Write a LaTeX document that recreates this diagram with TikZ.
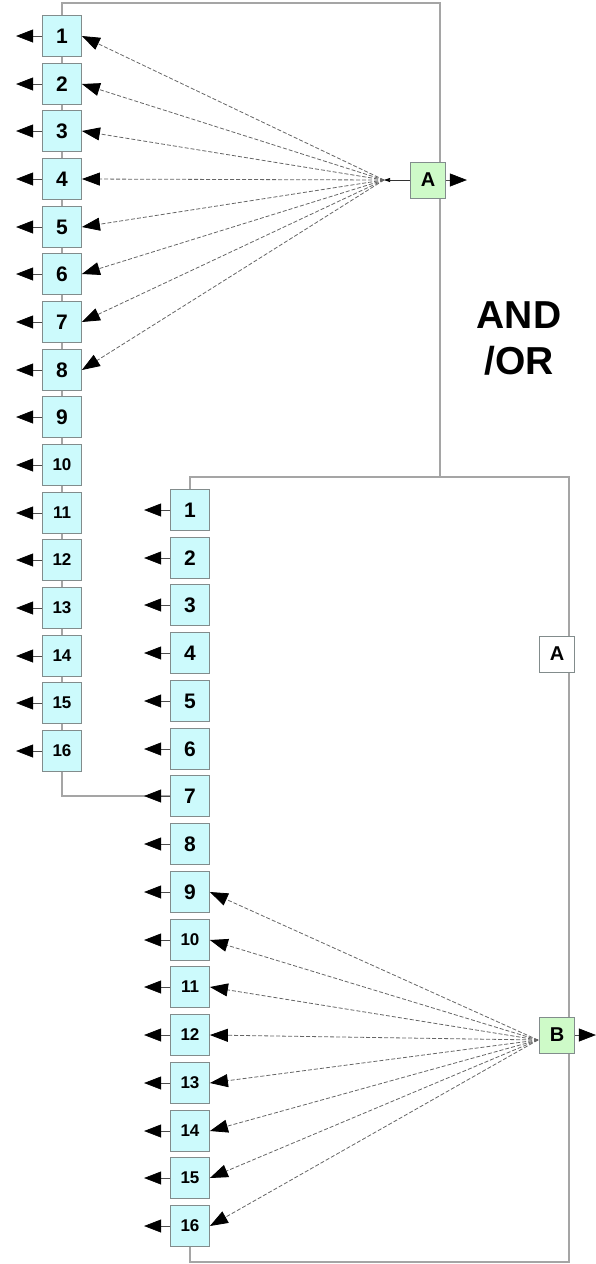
\documentclass[tikz,border=0pt]{standalone}
\usepackage{fontspec}
\setmainfont{Liberation Sans}
\usetikzlibrary{arrows.meta,backgrounds}

\definecolor{boxcyan}{RGB}{204,250,252}
\definecolor{boxgreen}{RGB}{206,250,200}
\definecolor{framegray}{RGB}{165,165,165}
\definecolor{edgegray}{RGB}{130,140,140}

\tikzset{
	numbox/.style={draw=edgegray, fill=boxcyan, line width=0.8pt, minimum width=39pt, minimum height=41pt, inner sep=0pt, font=\fontsize{21}{24}\selectfont\bfseries},
	numboxsm/.style={numbox, font=\fontsize{17}{19}\selectfont\bfseries},
	selbox/.style={draw=edgegray, fill=boxgreen, line width=0.8pt, minimum width=35pt, minimum height=36pt, inner sep=0pt, font=\fontsize{20}{22}\selectfont\bfseries},
	plainbox/.style={selbox, fill=white},
	frameline/.style={draw=framegray, line width=1.2pt},
	outpin/.style={draw=black!70, line width=0.6pt, -{Triangle[length=17pt, width=13pt, color=black]}},
	joinline/.style={draw=black!80, line width=0.6pt, -{Triangle[length=6pt, width=4pt, color=black]}},
	fanline/.style={draw=black!60, line width=0.8pt, dash pattern=on 4pt off 2pt, -{Triangle[length=18pt, width=13pt, color=black]}}
}

\begin{document}
\begin{tikzpicture}[x=1pt, y=-1pt]
	\useasboundingbox (0, 0) rectangle (596, 1264);

	\node[numbox] (l1) at (62, 36) {1};
	\node[numbox] (l2) at (62, 84) {2};
	\node[numbox] (l3) at (62, 131) {3};
	\node[numbox] (l4) at (62, 179) {4};
	\node[numbox] (l5) at (62, 227) {5};
	\node[numbox] (l6) at (62, 274) {6};
	\node[numbox] (l7) at (62, 322) {7};
	\node[numbox] (l8) at (62, 370) {8};
	\node[numbox] (l9) at (62, 417) {9};
	\node[numboxsm] (l10) at (62, 465) {10};
	\node[numboxsm] (l11) at (62, 513) {11};
	\node[numboxsm] (l12) at (62, 560) {12};
	\node[numboxsm] (l13) at (62, 608) {13};
	\node[numboxsm] (l14) at (62, 656) {14};
	\node[numboxsm] (l15) at (62, 703) {15};
	\node[numboxsm] (l16) at (62, 751) {16};

	\node[numbox] (m1) at (190, 510) {1};
	\node[numbox] (m2) at (190, 558) {2};
	\node[numbox] (m3) at (190, 605) {3};
	\node[numbox] (m4) at (190, 653) {4};
	\node[numbox] (m5) at (190, 701) {5};
	\node[numbox] (m6) at (190, 749) {6};
	\node[numbox] (m7) at (190, 796) {7};
	\node[numbox] (m8) at (190, 844) {8};
	\node[numbox] (m9) at (190, 892) {9};
	\node[numboxsm] (m10) at (190, 940) {10};
	\node[numboxsm] (m11) at (190, 987) {11};
	\node[numboxsm] (m12) at (190, 1035) {12};
	\node[numboxsm] (m13) at (190, 1083) {13};
	\node[numboxsm] (m14) at (190, 1131) {14};
	\node[numboxsm] (m15) at (190, 1178) {15};
	\node[numboxsm] (m16) at (190, 1226) {16};

	\node[selbox] (ga) at (428, 180) {A};
	\node[plainbox] (wa) at (557, 654) {A};
	\node[selbox] (gb) at (557, 1035) {B};
	\node[font=\fontsize{39}{46}\selectfont\bfseries, align=center] (andor) at (519, 338) {AND\\/OR};

	\coordinate (ftr) at (440, 3);
	\coordinate (fmid) at (440, 477);
	\coordinate (gtr) at (569, 477);
	\coordinate (gbr) at (569, 1262);
	\coordinate (fana) at (384, 180);
	\coordinate (fanb) at (538, 1040);

	\begin{scope}[on background layer]
		\draw[frameline] (l1.center) |- (ftr) -- (fmid);
		\draw[frameline] (l1.center) -- (l16.center) |- (m7.west);
		\draw[frameline] (m1.center) |- (gtr) -- (gbr) -| (m16.center);
	\end{scope}

	\draw[joinline] (ga.west) -- (fana);
	\draw[fanline] (fana) -- (l1.east);
	\draw[fanline] (fana) -- (l2.east);
	\draw[fanline] (fana) -- (l3.east);
	\draw[fanline] (fana) -- (l4.east);
	\draw[fanline] (fana) -- (l5.east);
	\draw[fanline] (fana) -- (l6.east);
	\draw[fanline] (fana) -- (l7.east);
	\draw[fanline] (fana) -- (l8.east);

	\draw[fanline] (fanb) -- (m9.east);
	\draw[fanline] (fanb) -- (m10.east);
	\draw[fanline] (fanb) -- (m11.east);
	\draw[fanline] (fanb) -- (m12.east);
	\draw[fanline] (fanb) -- (m13.east);
	\draw[fanline] (fanb) -- (m14.east);
	\draw[fanline] (fanb) -- (m15.east);
	\draw[fanline] (fanb) -- (m16.east);

	\draw[outpin] (ga.east) -- ++(21, 0);
	\draw[outpin] (gb.east) -- ++(21, 0);

	\draw[outpin] (l1.west) -- ++(-26, 0);
	\draw[outpin] (l2.west) -- ++(-26, 0);
	\draw[outpin] (l3.west) -- ++(-26, 0);
	\draw[outpin] (l4.west) -- ++(-26, 0);
	\draw[outpin] (l5.west) -- ++(-26, 0);
	\draw[outpin] (l6.west) -- ++(-26, 0);
	\draw[outpin] (l7.west) -- ++(-26, 0);
	\draw[outpin] (l8.west) -- ++(-26, 0);
	\draw[outpin] (l9.west) -- ++(-26, 0);
	\draw[outpin] (l10.west) -- ++(-26, 0);
	\draw[outpin] (l11.west) -- ++(-26, 0);
	\draw[outpin] (l12.west) -- ++(-26, 0);
	\draw[outpin] (l13.west) -- ++(-26, 0);
	\draw[outpin] (l14.west) -- ++(-26, 0);
	\draw[outpin] (l15.west) -- ++(-26, 0);
	\draw[outpin] (l16.west) -- ++(-26, 0);

	\draw[outpin] (m1.west) -- ++(-26, 0);
	\draw[outpin] (m2.west) -- ++(-26, 0);
	\draw[outpin] (m3.west) -- ++(-26, 0);
	\draw[outpin] (m4.west) -- ++(-26, 0);
	\draw[outpin] (m5.west) -- ++(-26, 0);
	\draw[outpin] (m6.west) -- ++(-26, 0);
	\draw[outpin] (m7.west) -- ++(-26, 0);
	\draw[outpin] (m8.west) -- ++(-26, 0);
	\draw[outpin] (m9.west) -- ++(-26, 0);
	\draw[outpin] (m10.west) -- ++(-26, 0);
	\draw[outpin] (m11.west) -- ++(-26, 0);
	\draw[outpin] (m12.west) -- ++(-26, 0);
	\draw[outpin] (m13.west) -- ++(-26, 0);
	\draw[outpin] (m14.west) -- ++(-26, 0);
	\draw[outpin] (m15.west) -- ++(-26, 0);
	\draw[outpin] (m16.west) -- ++(-26, 0);

\end{tikzpicture}
\end{document}
